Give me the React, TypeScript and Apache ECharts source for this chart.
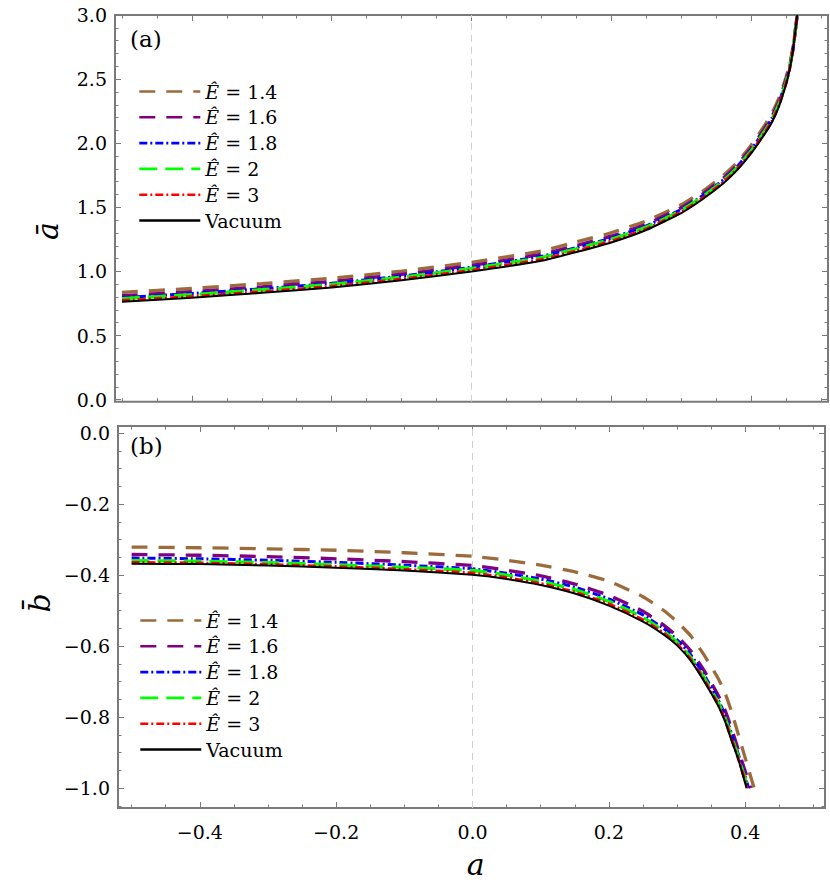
import React, { useEffect, useRef } from 'react';
import * as echarts from 'echarts';

// ---------- data ----------
const NAMES = ['Ê = 1.4', 'Ê = 1.6', 'Ê = 1.8', 'Ê = 2', 'Ê = 3', 'Vacuum'];
const COLORS = ['#9c6b3c', '#800080', '#0000ff', '#00ff00', '#ff0000', '#000000'];

// panel (a): ā versus a
const A_TOP = [-0.5, -0.4, -0.3, -0.2, -0.1, 0, 0.1, 0.15, 0.2, 0.25, 0.3, 0.33, 0.36, 0.38, 0.4, 0.42, 0.43, 0.44, 0.45, 0.455, 0.46, 0.466];
const TOP_E14 = [0.837, 0.868, 0.905, 0.947, 1.002, 1.071, 1.16, 1.23, 1.302, 1.394, 1.52, 1.623, 1.748, 1.85, 1.985, 2.145, 2.235, 2.355, 2.515, 2.61, 2.75, 3.0];
const TOP_E16 = [0.811, 0.842, 0.88, 0.922, 0.978, 1.047, 1.133, 1.202, 1.275, 1.369, 1.497, 1.601, 1.726, 1.829, 1.962, 2.121, 2.211, 2.332, 2.496, 2.597, 2.743, 3.0];
const TOP_E18 = [0.796, 0.828, 0.865, 0.907, 0.964, 1.032, 1.118, 1.187, 1.26, 1.355, 1.484, 1.589, 1.714, 1.817, 1.949, 2.108, 2.197, 2.319, 2.485, 2.589, 2.739, 3.0];
const TOP_E2 = [0.787, 0.819, 0.857, 0.899, 0.955, 1.023, 1.108, 1.177, 1.251, 1.346, 1.476, 1.581, 1.706, 1.81, 1.941, 2.099, 2.188, 2.311, 2.478, 2.584, 2.737, 3.0];
const TOP_E3 = [0.773, 0.804, 0.842, 0.884, 0.941, 1.009, 1.093, 1.161, 1.236, 1.332, 1.463, 1.569, 1.694, 1.798, 1.928, 2.086, 2.174, 2.298, 2.467, 2.576, 2.733, 3.0];
const TOP_VAC = [0.763, 0.795, 0.833, 0.875, 0.932, 1.0, 1.083, 1.151, 1.226, 1.323, 1.455, 1.561, 1.686, 1.79, 1.92, 2.077, 2.165, 2.29, 2.46, 2.571, 2.73, 3.0];

// panel (b): b̄ versus a
const A_BOT = [-0.5, -0.4, -0.3, -0.2, -0.1, 0, 0.05, 0.1, 0.15, 0.2, 0.25, 0.28, 0.3, 0.32, 0.34, 0.36, 0.37, 0.38, 0.39];
const BOT_E14 = [-0.321, -0.323, -0.326, -0.33, -0.337, -0.347, -0.358, -0.372, -0.391, -0.417, -0.461, -0.499, -0.531, -0.571, -0.626, -0.69, -0.73, -0.785, -0.85];
const BOT_E16 = [-0.342, -0.344, -0.348, -0.354, -0.362, -0.373, -0.386, -0.402, -0.425, -0.457, -0.502, -0.54, -0.572, -0.613, -0.67, -0.737, -0.778, -0.832, -0.893];
const BOT_E18 = [-0.352, -0.354, -0.358, -0.364, -0.372, -0.382, -0.395, -0.411, -0.434, -0.467, -0.512, -0.55, -0.582, -0.624, -0.682, -0.75, -0.792, -0.847, -0.905];
const BOT_E2 = [-0.359, -0.361, -0.365, -0.371, -0.378, -0.387, -0.4, -0.417, -0.441, -0.474, -0.519, -0.557, -0.589, -0.632, -0.69, -0.757, -0.8, -0.855, -0.912];
const BOT_E3 = [-0.3645, -0.366, -0.37, -0.376, -0.384, -0.394, -0.407, -0.424, -0.448, -0.481, -0.526, -0.563, -0.594, -0.637, -0.696, -0.763, -0.806, -0.862, -0.918];
const BOT_VAC = [-0.368, -0.369, -0.373, -0.379, -0.387, -0.399, -0.411, -0.428, -0.452, -0.486, -0.531, -0.567, -0.598, -0.641, -0.7, -0.767, -0.81, -0.866, -0.92];
const BOT_END_A = [0.413, 0.408, 0.405, 0.404, 0.403, 0.402];
const BOT_END_B = -1.0;

// ticks
const X_MAJOR = [-0.4, -0.2, 0, 0.2, 0.4];
const X_MINOR = [-0.5, -0.45, -0.35, -0.3, -0.25, -0.15, -0.1, -0.05, 0.05, 0.1, 0.15, 0.25, 0.3, 0.35, 0.45, 0.5];
const YT_MAJOR = [0, 0.5, 1.0, 1.5, 2.0, 2.5, 3.0];
const YT_MINOR = [0.1, 0.2, 0.3, 0.4, 0.6, 0.7, 0.8, 0.9, 1.1, 1.2, 1.3, 1.4, 1.6, 1.7, 1.8, 1.9, 2.1, 2.2, 2.3, 2.4, 2.6, 2.7, 2.8, 2.9];
const YB_MAJOR = [0, -0.2, -0.4, -0.6, -0.8, -1.0];
const YB_MINOR = [-0.05, -0.1, -0.15, -0.25, -0.3, -0.35, -0.45, -0.5, -0.55, -0.65, -0.7, -0.75, -0.85, -0.9, -0.95, -1.05];

// ---------- styling ----------
const FONT = 'DejaVu Serif';
const FRAME = '#7a7a7a';
const DASHES: any[] = [[16, 11], [16, 11], [8, 3, 2, 3], [18, 8], [8, 3, 2, 3], 'solid'];
const WIDTHS = [3.3, 3.3, 3, 3.3, 3, 2];

const fmt = (v: number) => {
  const s = Math.abs(v) < 1e-9 ? '0.0' : v.toFixed(1);
  return s.replace('-', '\u2212');
};

function axes(dim: 'x' | 'y', gridIndex: number, min: number, max: number, major: number[], minor: number[], showLabels: boolean) {
  const pos = dim === 'x' ? ['bottom', 'top'] : ['left', 'right'];
  const mk = (position: string, values: number[], len: number, labels: boolean) => ({
    type: 'value',
    gridIndex,
    position,
    min,
    max,
    axisLine: { show: false, onZero: false },
    splitLine: { show: false },
    axisTick: { show: true, inside: true, length: len, customValues: values, lineStyle: { color: FRAME, width: 1 } },
    axisLabel: labels
      ? {
          show: true,
          customValues: values,
          formatter: (v: number) => fmt(v),
          fontFamily: FONT,
          fontSize: 19,
          color: '#000',
          margin: dim === 'x' ? 14 : 8,
        }
      : { show: false },
    axisPointer: { show: false },
  });
  return [
    mk(pos[0], major, 6, showLabels),
    mk(pos[0], minor, 3.5, false),
    mk(pos[1], major, 6, false),
    mk(pos[1], minor, 3.5, false),
  ];
}

const TOP_VALUES = [TOP_E14, TOP_E16, TOP_E18, TOP_E2, TOP_E3, TOP_VAC];
const BOT_VALUES = [BOT_E14, BOT_E16, BOT_E18, BOT_E2, BOT_E3, BOT_VAC];

const zeroLine = {
  silent: true,
  symbol: ['none', 'none'],
  label: { show: false },
  lineStyle: { color: '#d0d0d0', type: [7, 5], width: 1 },
  emphasis: { disabled: true },
  data: [{ xAxis: 0 }],
};

function buildSeries() {
  const out: any[] = [];
  NAMES.forEach((name, k) => {
    out.push({
      type: 'line',
      name,
      xAxisIndex: 0,
      yAxisIndex: 0,
      data: A_TOP.map((a, i) => [a, TOP_VALUES[k][i]]),
      showSymbol: false,
      symbol: 'none',
      smooth: 0.15,
      itemStyle: { color: COLORS[k] },
      lineStyle: { color: COLORS[k], width: WIDTHS[k], type: DASHES[k] },
      markLine: k === 0 ? zeroLine : undefined,
      z: 2 + k,
    });
  });
  NAMES.forEach((name, k) => {
    out.push({
      type: 'line',
      name,
      xAxisIndex: 4,
      yAxisIndex: 4,
      data: [...A_BOT.map((a, i) => [a, BOT_VALUES[k][i]]), [BOT_END_A[k], BOT_END_B]],
      showSymbol: false,
      symbol: 'none',
      smooth: 0.15,
      itemStyle: { color: COLORS[k] },
      lineStyle: { color: COLORS[k], width: WIDTHS[k], type: DASHES[k] },
      markLine: k === 0 ? zeroLine : undefined,
      z: 2 + k,
    });
  });
  return out;
}

const legendFormatter = (name: string) =>
  name.startsWith('Ê') ? `{i|Ê}{n|${name.slice(1)}}` : `{n|${name}}`;

const legendBase = {
  orient: 'vertical',
  padding: 0,
  itemWidth: 61,
  itemHeight: 14,
  itemGap: 6.8,
  selectedMode: false,
  data: NAMES,
  formatter: legendFormatter,
  itemStyle: { color: 'transparent', borderColor: 'transparent', borderWidth: 0, opacity: 0 },
  lineStyle: { width: 2.6 },
  textStyle: {
    fontFamily: FONT,
    fontSize: 19,
    color: '#000',
    rich: {
      i: { fontFamily: FONT, fontStyle: 'italic', fontSize: 19, lineHeight: 20, color: '#000' },
      n: { fontFamily: FONT, fontSize: 19, lineHeight: 20, color: '#000' },
    },
  },
};

const option: any = {
  animation: false,
  backgroundColor: '#ffffff',
  grid: [
    { left: 115, top: 15, width: 713, height: 386.7, show: true, borderColor: FRAME, borderWidth: 2, backgroundColor: 'transparent' },
    { left: 118, top: 426, width: 707, height: 382, show: true, borderColor: FRAME, borderWidth: 2, backgroundColor: 'transparent' },
  ],
  xAxis: [
    ...axes('x', 0, -0.51, 0.51, X_MAJOR, X_MINOR, false),
    ...axes('x', 1, -0.52, 0.517, X_MAJOR, X_MINOR, true),
  ],
  yAxis: [
    ...axes('y', 0, -0.016, 3.0, YT_MAJOR, YT_MINOR, true),
    ...axes('y', 1, -1.056, 0.02, YB_MAJOR, YB_MINOR, true),
  ],
  legend: [
    { ...legendBase, left: 138, top: 82 },
    { ...legendBase, left: 139, top: 611 },
  ],
  series: buildSeries(),
  graphic: [
    { type: 'text', left: 130, top: 27, style: { text: '(a)', fontFamily: FONT, fontSize: 23, fill: '#000' } },
    { type: 'text', left: 130, top: 434, style: { text: '(b)', fontFamily: FONT, fontSize: 23, fill: '#000' } },
    {
      type: 'text', x: 47.6, y: 231, rotation: Math.PI / 2,
      style: { text: 'ā', fontFamily: FONT, fontStyle: 'italic', fontSize: 30, fill: '#000', align: 'center', verticalAlign: 'middle' },
    },
    {
      type: 'text', x: 39.6, y: 603, rotation: Math.PI / 2,
      style: { text: 'b\u0304', fontFamily: FONT, fontStyle: 'italic', fontSize: 30, fill: '#000', align: 'center', verticalAlign: 'middle' },
    },
    {
      type: 'text', x: 475.7, y: 864,
      style: { text: 'a', fontFamily: FONT, fontStyle: 'italic', fontSize: 30, fill: '#000', align: 'center', verticalAlign: 'middle' },
    },
  ],
};

export default function App() {
  const ref = useRef<HTMLDivElement>(null);
  useEffect(() => {
    document.body.style.margin = '0';
    const chart = echarts.init(ref.current!, null, { renderer: 'svg' });
    chart.setOption(option);
    return () => chart.dispose();
  }, []);
  return <div ref={ref} style={{ width: 830, height: 892 }} />;
}
